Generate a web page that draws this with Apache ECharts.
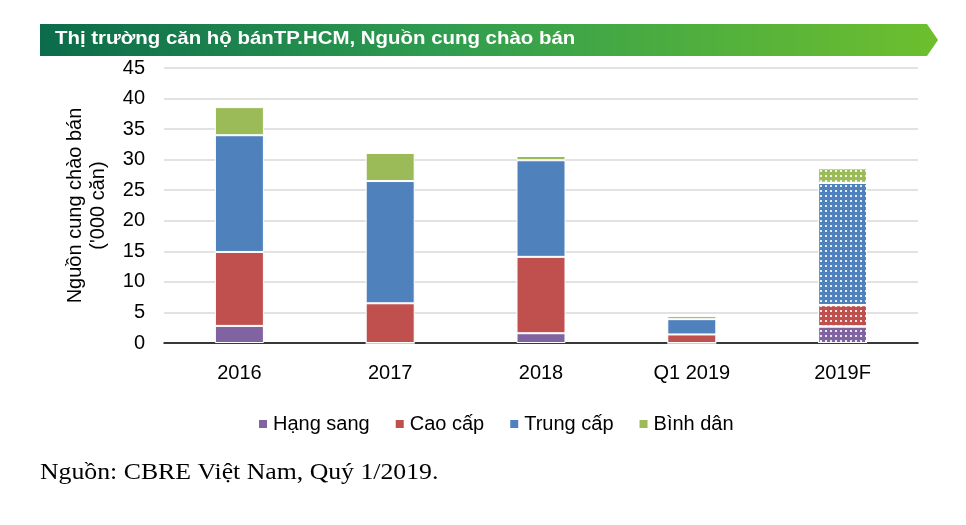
<!DOCTYPE html>
<html><head><meta charset="utf-8">
<script src="https://cdn.jsdelivr.net/npm/echarts@6/dist/echarts.min.js"></script>
<style>html,body{margin:0;padding:0;background:#fff}#c{width:966px;height:525px}</style>
</head><body><div id="c"></div>
<script>
const categories = ['2016', '2017', '2018', 'Q1 2019', '2019F'];
const hangSang = [2.8, 0, 1.6, 0, 2.7];
const caoCap = [12.1, 6.5, 12.5, 1.4, 3.5];
const trungCap = [19.1, 20.0, 15.8, 2.5, 20.0];
const binhDan = [4.6, 4.6, 0.7, 0.5, 2.4];
const seriesNames = ['Hạng sang', 'Cao cấp', 'Trung cấp', 'Bình dân'];
const yTicks = [0, 5, 10, 15, 20, 25, 30, 35, 40, 45];
const titleText = 'Thị trường căn hộ bánTP.HCM, Nguồn cung chào bán';
const sourceText = 'Nguồn: CBRE Việt Nam, Quý 1/2019.';
const forecastCat = '2019F';

const colors = ['#8064a2', '#c0504d', '#4f81bd', '#9bbb59'];
const font = 'Arial, "Liberation Sans", sans-serif';
const decal = {symbol: 'rect', symbolSize: 1, dashArrayX: [1.5, 2.5], dashArrayY: [1.5, 2.5], color: 'rgba(255,255,255,0.85)', rotation: 0};

function mk(name, arr, i) {
  return {
    name: name, type: 'bar', stack: 'total', barWidth: 49,
    itemStyle: {color: colors[i], borderColor: '#fff', borderWidth: 1},
    data: arr.map((v, k) => categories[k] === forecastCat
      ? {value: v, itemStyle: {decal: decal}} : v)
  };
}

const chart = echarts.init(document.getElementById('c'), null, {renderer: 'canvas'});
chart.setOption({
  animation: false,
  grid: {left: 164, right: 48, top: 68, bottom: 182},
  legend: {
    bottom: 86, left: 252, itemWidth: 10, itemHeight: 10, itemGap: 24,
    icon: 'rect', textStyle: {fontSize: 20, color: '#000', fontFamily: font},
    data: seriesNames
  },
  xAxis: {
    type: 'category', data: categories,
    axisLine: {lineStyle: {color: '#000', width: 1.5}},
    axisTick: {show: false},
    axisLabel: {fontSize: 20, color: '#000', margin: 20, fontFamily: font}
  },
  yAxis: {
    type: 'value', min: yTicks[0], max: yTicks[yTicks.length - 1], interval: 5,
    name: 'Nguồn cung chào bán\n(\'000 căn)', nameLocation: 'middle', nameGap: 54,
    nameTextStyle: {fontSize: 20, color: '#000', fontFamily: font, lineHeight: 23},
    axisLine: {show: false}, axisTick: {show: false},
    axisLabel: {fontSize: 20, color: '#000', margin: 19, fontFamily: font},
    splitLine: {lineStyle: {color: '#d9d9d9', width: 1.5}}
  },
  series: [mk(seriesNames[0], hangSang, 0), mk(seriesNames[1], caoCap, 1),
           mk(seriesNames[2], trungCap, 2), mk(seriesNames[3], binhDan, 3)],
  graphic: [
    {type: 'polygon', shape: {points: [[40, 24], [927, 24], [938, 40], [927, 56], [40, 56]]},
     style: {fill: new echarts.graphic.LinearGradient(0, 0, 1, 0, [
       {offset: 0, color: '#0b6b4b'}, {offset: 0.45, color: '#2f9d4f'}, {offset: 1, color: '#6dbf2d'}])}},
    {type: 'text', x: 55, y: 29, scaleX: 1.075, style: {text: titleText, fill: '#fff',
      font: 'bold 19px Arial, "Liberation Sans", sans-serif'}},
    {type: 'text', x: 40, y: 461, scaleX: 1.12, style: {text: sourceText, fill: '#000',
      font: '23px "Liberation Serif", "Times New Roman", serif'}}
  ]
});
</script></body></html>
